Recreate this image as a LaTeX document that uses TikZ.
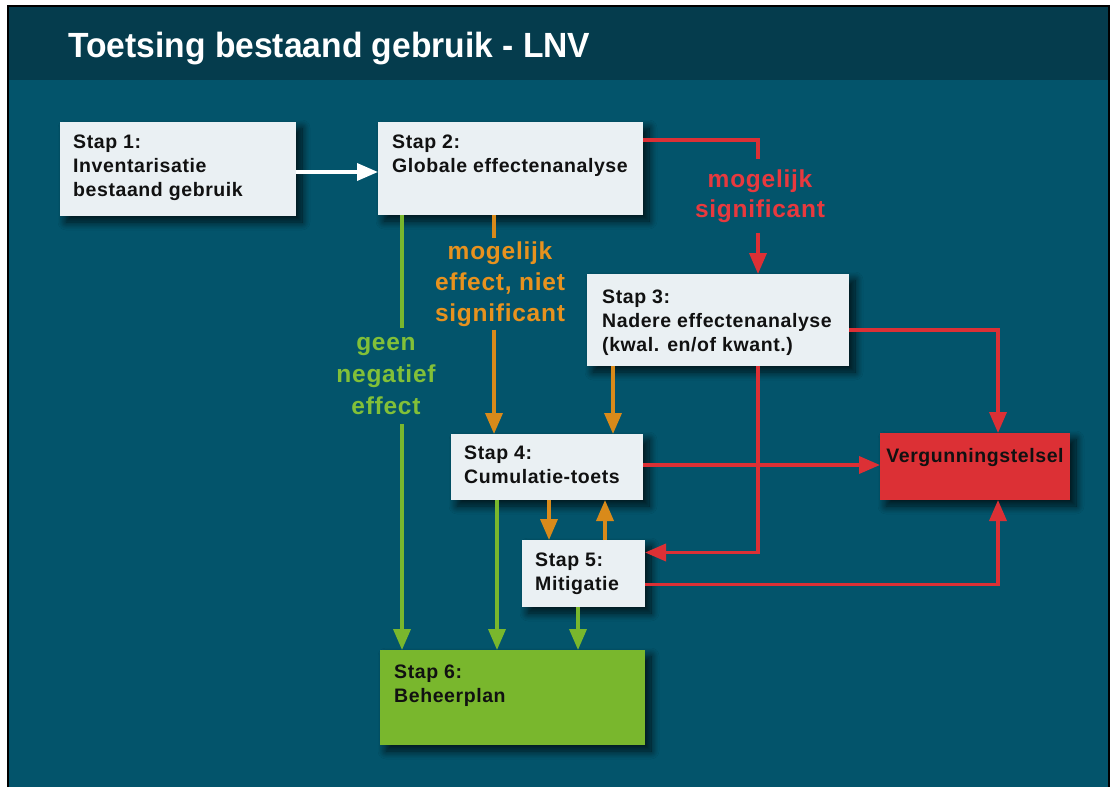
\documentclass[tikz,border=0pt]{standalone}
\usepackage{fontspec}
\setmainfont{Liberation Sans}
\newfontfamily\lsp{Liberation Sans}[LetterSpace=3]
\usetikzlibrary{arrows.meta,shadows.blur}
\definecolor{bgmain}{HTML}{03546B}
\definecolor{bgtitle}{HTML}{053C4D}
\definecolor{boxlight}{HTML}{EAF0F3}
\definecolor{grn}{HTML}{79B72D}
\definecolor{grntxt}{HTML}{82C038}
\definecolor{org}{HTML}{D98A1A}
\definecolor{orgtxt}{HTML}{E8921E}
\definecolor{rd}{HTML}{DC3035}
\definecolor{rdtxt}{HTML}{E8393E}
\definecolor{txtdark}{HTML}{111111}
\begin{document}
\begin{tikzpicture}[x=1pt,y=-1pt,
  box/.style={anchor=north west, inner sep=0pt, outer sep=0pt, fill=boxlight,
    blur shadow={shadow xshift=6pt, shadow yshift=-6pt, shadow blur radius=8pt, shadow blur steps=10, shadow opacity=75}},
  btxt/.style={anchor=north west, inner sep=0pt, align=left, text=txtdark,
    font=\lsp\bfseries\fontsize{19.5}{24}\selectfont},
  lbl/.style={align=center, inner xsep=2pt, font=\lsp\bfseries\fontsize{24.5}{31}\selectfont},
  conn/.style={line width=3.6pt},
  tip/.style={-{Triangle[length=21pt,width=17pt]}},
]
\useasboundingbox (0,0) rectangle (1114,787);
% frame and background
\fill[white] (0,0) rectangle (1114,787);
\fill[bgmain] (8,6) rectangle (1109,800);
\fill[bgtitle] (8,6) rectangle (1109,80);
\draw[black, line width=2pt] (8,800) -- (8,6) -- (1109,6) -- (1109,800);
\node[anchor=base west, inner sep=0pt, text=white, font=\bfseries\fontsize{35}{38}\selectfont] (title) at (68,57) {\scalebox{0.96}[1]{Toetsing bestaand gebruik - LNV}};

% boxes
\node[box, minimum width=236pt, minimum height=94pt] (s1) at (60,122) {};
\node[box, minimum width=265pt, minimum height=93pt] (s2) at (378,122) {};
\node[box, minimum width=262pt, minimum height=92pt] (s3) at (587,274) {};
\node[box, minimum width=192pt, minimum height=66pt] (s4) at (451,434) {};
\node[box, minimum width=123pt, minimum height=67pt] (s5) at (522,540) {};
\node[box, fill=grn, minimum width=265pt, minimum height=95pt] (s6) at (380,650) {};
\node[box, fill=rd, minimum width=190pt, minimum height=67pt] (vg) at (880,433) {};

% box texts
\node[btxt] (t1) at ([xshift=13pt,yshift=-13pt]s1.north west) {Stap 1:\\Inventarisatie\\bestaand gebruik};
\node[btxt] (t2) at ([xshift=14pt,yshift=-13pt]s2.north west) {Stap 2:\\Globale effectenanalyse};
\node[btxt] (t3) at ([xshift=15pt,yshift=-16pt]s3.north west) {Stap 3:\\Nadere effectenanalyse\\(kwal. en/of kwant.)};
\node[btxt] (t4) at ([xshift=13pt,yshift=-12pt]s4.north west) {Stap 4:\\Cumulatie-toets};
\node[btxt] (t5) at ([xshift=13pt,yshift=-13pt]s5.north west) {Stap 5:\\Mitigatie};
\node[btxt] (t6) at ([xshift=14pt,yshift=-15pt]s6.north west) {Stap 6:\\Beheerplan};
\node[btxt, anchor=north] (tv) at ([yshift=-15pt]vg.north) {Vergunningstelsel};

% labels
\node[lbl, text=rdtxt, inner ysep=10pt, font=\lsp\bfseries\fontsize{24.5}{30}\selectfont] (lr) at (760,196) {mogelijk\\significant};
\node[lbl, text=orgtxt, inner ysep=3pt] (lo) at (500,284) {mogelijk\\effect, niet\\significant};
\node[lbl, text=grntxt, inner ysep=9pt, font=\lsp\bfseries\fontsize{24.5}{32}\selectfont] (lg) at (386,376) {geen\\negatief\\effect};

% white arrow
\draw[conn, white, tip] ([yshift=-3pt]s1.east) -- ([yshift=-3pt]s1.east -| s2.west);

% red connectors
\draw[conn, rd] ([yshift=-18pt]s2.north east) -| ([xshift=-2pt]lr.north);
\draw[conn, rd, tip] ([xshift=-2pt]lr.south) -- ([xshift=-2pt]lr.south |- s3.north);
\draw[conn, rd, tip] ([yshift=-56pt]s3.north east) -| ([xshift=118pt]vg.north west);
\draw[conn, rd, tip] ([yshift=2pt]s4.east) -- ([yshift=2pt]s4.east -| vg.west);
\draw[conn, rd, tip] ([xshift=171pt]s3.south west) |- ([yshift=21pt]s5.east);
\draw[conn, rd, tip] ([yshift=-11pt]s5.east) -| ([xshift=118pt]vg.south west);

% orange connectors
\draw[conn, org] ([xshift=116pt]s2.south west) coordinate (o1) -- (o1 |- lo.north);
\draw[conn, org, tip] (o1 |- lo.south) -- (o1 |- s4.north);
\draw[conn, org, tip] ([xshift=26pt]s3.south west) coordinate (o2) -- (o2 |- s4.north);
\draw[conn, org, tip] ([xshift=98pt]s4.south west) coordinate (o3) -- (o3 |- s5.north);
\draw[conn, org, tip] ([xshift=83pt]s5.north west) coordinate (o4) -- (o4 |- s4.south);

% green connectors
\draw[conn, grn] ([xshift=24pt]s2.south west) coordinate (g1) -- (g1 |- lg.north);
\draw[conn, grn, tip] (g1 |- lg.south) -- (g1 |- s6.north);
\draw[conn, grn, tip] ([xshift=46pt]s4.south west) coordinate (g2) -- (g2 |- s6.north);
\draw[conn, grn, tip] ([xshift=56pt]s5.south west) coordinate (g3) -- (g3 |- s6.north);
\end{tikzpicture}
\end{document}
